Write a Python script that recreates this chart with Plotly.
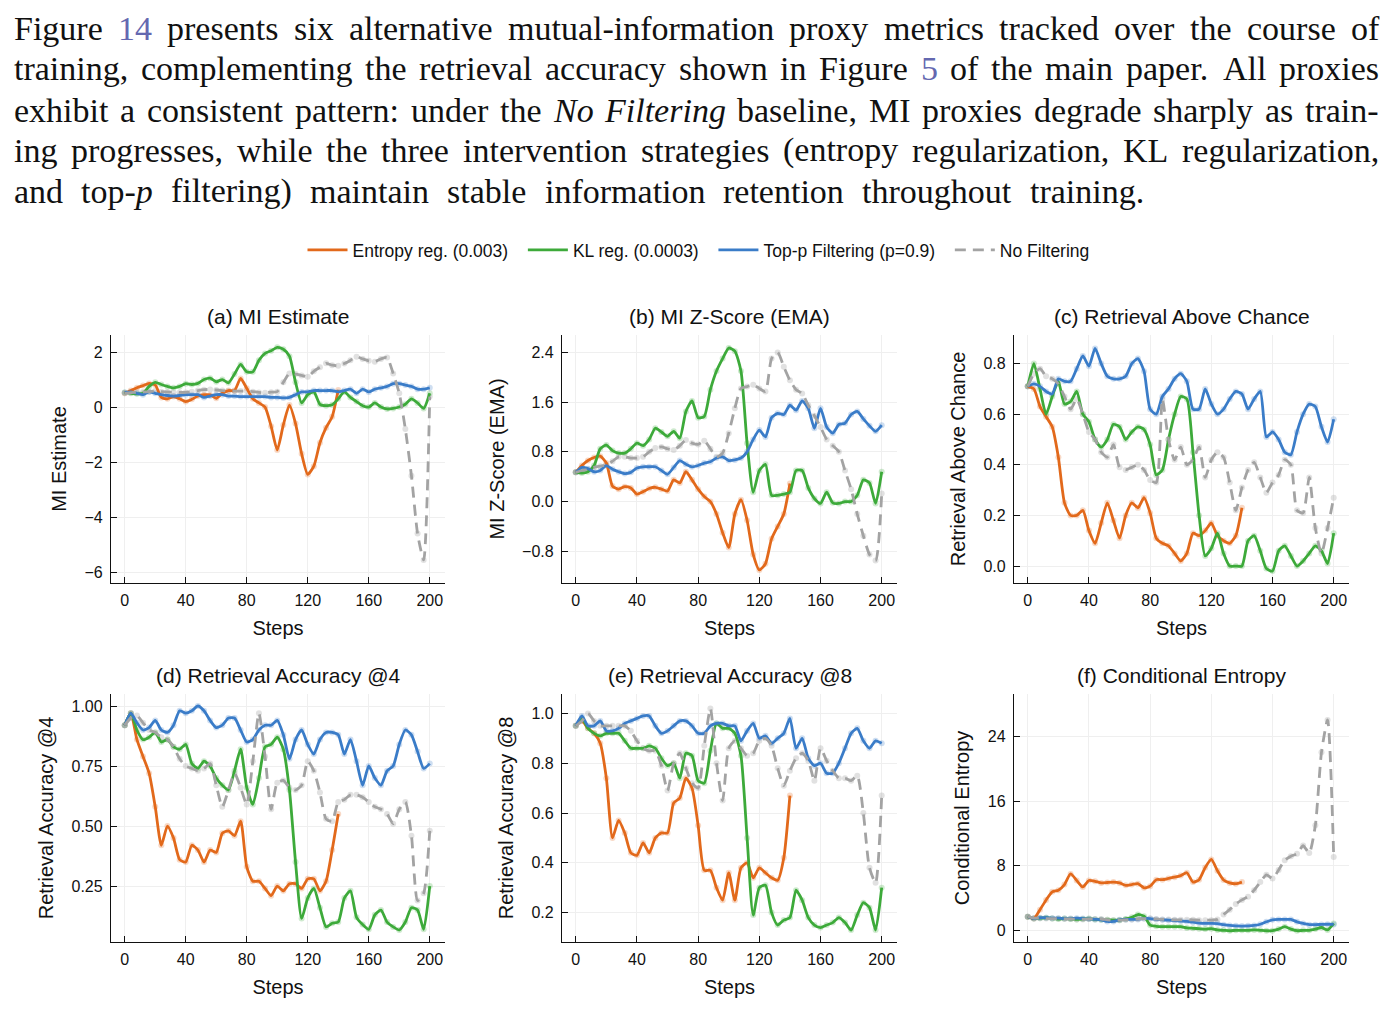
import re
import plotly.graph_objects as go
from plotly.subplots import make_subplots

steps = list(range(0, 201, 4))

series_names = ["Entropy reg. (0.003)", "KL reg. (0.0003)", "Top-p Filtering (p=0.9)", "No Filtering"]
panel_titles = ["(a) MI Estimate", "(b) MI Z-Score (EMA)", "(c) Retrieval Above Chance",
                "(d) Retrieval Accuracy @4", "(e) Retrieval Accuracy @8", "(f) Conditional Entropy"]
y_titles = ["MI Estimate", "MI Z-Score (EMA)", "Retrieval Above Chance",
            "Retrieval Accuracy @4", "Retrieval Accuracy @8", "Conditional Entropy"]
x_ticks = [0, 40, 80, 120, 160, 200]
y_ticks = [[-6, -4, -2, 0, 2], [-0.8, 0.0, 0.8, 1.6, 2.4], [0.0, 0.2, 0.4, 0.6, 0.8],
           [0.25, 0.50, 0.75, 1.00], [0.2, 0.4, 0.6, 0.8, 1.0], [0, 8, 16, 24]]
y_formats = ["d", ".1f", ".1f", ".2f", ".1f", "d"]

# (a) MI Estimate
A_ent = [0.5,0.6,0.7,0.78,0.86,0.8,0.35,0.3,0.38,0.3,0.2,0.28,0.4,0.45,0.44,0.32,0.5,0.6,0.6,1.04,
         0.68,0.3,0.15,0.0,-0.7,-1.56,-0.65,0.07,-0.6,-1.7,-2.45,-2.15,-1.3,-0.75,-0.35,0.62]
A_kl = [0.53,0.5,0.48,0.5,0.75,0.9,0.82,0.75,0.7,0.75,0.85,0.82,0.86,1.0,1.05,0.92,1.0,0.88,1.2,1.55,
        1.28,1.28,1.7,1.95,2.05,2.17,2.1,1.85,0.9,0.15,0.45,0.55,0.1,0.05,0.08,0.3,0.55,0.35,0.2,0.05,
        0.0,0.15,0.0,-0.07,-0.05,0.0,0.1,0.3,0.15,-0.05,0.5]
A_top = [0.53,0.55,0.5,0.45,0.55,0.5,0.45,0.42,0.4,0.42,0.45,0.45,0.45,0.35,0.4,0.45,0.45,0.4,0.4,0.38,
         0.38,0.38,0.38,0.38,0.35,0.35,0.33,0.35,0.45,0.55,0.55,0.6,0.6,0.6,0.6,0.55,0.6,0.65,0.5,0.65,
         0.55,0.65,0.7,0.75,0.85,0.85,0.8,0.75,0.65,0.65,0.7]
A_nof = [0.5,0.52,0.55,0.55,0.56,0.58,0.56,0.55,0.54,0.53,0.53,0.56,0.6,0.63,0.64,0.62,0.6,0.58,0.58,0.58,
         0.58,0.56,0.53,0.52,0.54,0.56,0.9,1.22,1.2,1.15,1.1,1.3,1.45,1.59,1.52,1.5,1.58,1.7,1.83,1.75,
         1.68,1.65,1.75,1.8,1.22,0.5,-0.8,-2.5,-4.6,-5.56,0.38]

# (b) MI Z-Score (EMA)
B_ent = [0.47,0.58,0.66,0.71,0.73,0.62,0.25,0.2,0.24,0.22,0.12,0.16,0.21,0.23,0.2,0.17,0.35,0.3,0.48,0.35,
         0.2,0.08,0.0,-0.2,-0.5,-0.74,-0.2,0.03,-0.3,-0.85,-1.1,-1.0,-0.6,-0.4,-0.2,0.29]
B_kl = [0.47,0.46,0.48,0.58,0.85,0.91,0.82,0.78,0.78,0.85,0.94,0.9,1.0,1.18,1.12,1.05,1.13,1.02,1.45,1.62,
        1.35,1.37,1.8,2.1,2.3,2.47,2.42,2.1,0.94,0.15,0.5,0.6,0.1,0.1,0.12,0.15,0.5,0.5,0.22,0.05,
        -0.03,0.15,-0.02,-0.03,0.0,0.0,0.1,0.35,0.3,-0.03,0.48]
B_top = [0.47,0.55,0.53,0.48,0.5,0.58,0.52,0.48,0.45,0.47,0.54,0.56,0.56,0.56,0.5,0.44,0.55,0.66,0.6,0.56,
         0.58,0.62,0.64,0.7,0.72,0.66,0.67,0.7,0.8,1.0,1.15,1.04,1.35,1.42,1.4,1.55,1.47,1.62,1.5,1.18,
         1.5,1.2,1.1,1.24,1.26,1.4,1.45,1.33,1.22,1.13,1.23]
B_nof = [0.47,0.5,0.52,0.55,0.57,0.59,0.65,0.72,0.72,0.7,0.7,0.72,0.8,0.86,0.88,0.85,0.83,0.9,0.99,0.94,
         0.92,0.98,0.85,0.72,0.78,1.1,1.5,1.82,1.85,1.88,1.82,1.77,2.3,2.4,2.17,1.95,1.8,1.74,1.55,1.38,
         1.2,1.0,0.9,0.8,0.5,0.2,-0.2,-0.55,-0.85,-0.95,0.13]

# (c) Retrieval Above Chance
C_ent = [0.71,0.7,0.63,0.59,0.55,0.43,0.25,0.2,0.2,0.22,0.14,0.09,0.17,0.25,0.18,0.11,0.2,0.25,0.23,0.27,
         0.21,0.11,0.09,0.08,0.05,0.02,0.05,0.13,0.12,0.14,0.17,0.12,0.1,0.09,0.12,0.23]
C_kl = [0.71,0.8,0.7,0.6,0.67,0.73,0.64,0.65,0.69,0.6,0.57,0.5,0.47,0.5,0.56,0.55,0.5,0.53,0.55,0.54,
        0.48,0.36,0.38,0.5,0.6,0.67,0.66,0.45,0.2,0.04,0.07,0.13,0.05,0.0,0.0,0.0,0.1,0.12,0.06,-0.01,
        -0.02,0.06,0.08,0.04,0.0,0.02,0.05,0.08,0.06,0.01,0.13]
C_top = [0.71,0.72,0.71,0.69,0.68,0.74,0.73,0.73,0.78,0.83,0.79,0.86,0.8,0.75,0.74,0.74,0.75,0.8,0.82,0.77,
         0.62,0.6,0.67,0.7,0.74,0.76,0.73,0.62,0.62,0.7,0.64,0.6,0.62,0.66,0.69,0.68,0.62,0.66,0.69,0.51,
         0.53,0.5,0.45,0.44,0.53,0.6,0.64,0.63,0.55,0.49,0.58]
C_nof = [0.71,0.76,0.78,0.75,0.74,0.72,0.67,0.62,0.66,0.6,0.53,0.5,0.45,0.43,0.48,0.39,0.38,0.39,0.4,0.38,
         0.34,0.33,0.66,0.5,0.42,0.47,0.4,0.42,0.47,0.35,0.42,0.45,0.43,0.33,0.22,0.31,0.38,0.41,0.35,0.29,
         0.33,0.36,0.42,0.4,0.22,0.21,0.35,0.15,0.05,0.15,0.27]

# (d) Retrieval Accuracy @4
D_ent = [0.92,0.97,0.86,0.79,0.72,0.58,0.42,0.5,0.45,0.36,0.35,0.42,0.4,0.35,0.4,0.39,0.47,0.48,0.46,0.52,
         0.33,0.27,0.27,0.24,0.21,0.25,0.23,0.26,0.26,0.24,0.28,0.28,0.23,0.27,0.4,0.55]
D_kl = [0.92,0.97,0.9,0.86,0.87,0.89,0.85,0.86,0.83,0.82,0.84,0.76,0.74,0.77,0.75,0.7,0.67,0.65,0.73,0.82,
        0.66,0.59,0.7,0.83,0.84,0.87,0.82,0.65,0.35,0.115,0.2,0.24,0.16,0.08,0.095,0.1,0.2,0.23,0.12,0.09,
        0.07,0.13,0.15,0.1,0.08,0.067,0.1,0.16,0.15,0.07,0.25]
D_top = [0.92,0.97,0.93,0.9,0.91,0.94,0.9,0.89,0.92,0.98,0.97,0.98,1.0,0.98,0.94,0.91,0.92,0.95,0.95,0.9,
         0.85,0.86,0.9,0.92,0.92,0.94,0.88,0.78,0.86,0.9,0.84,0.8,0.86,0.89,0.89,0.88,0.8,0.86,0.77,0.67,
         0.75,0.7,0.67,0.73,0.75,0.84,0.9,0.88,0.81,0.74,0.76]
D_nof = [0.92,0.95,0.96,0.93,0.9,0.89,0.87,0.86,0.83,0.78,0.75,0.74,0.73,0.74,0.76,0.67,0.58,0.65,0.72,0.66,
         0.59,0.77,0.97,0.79,0.57,0.68,0.69,0.66,0.65,0.67,0.77,0.73,0.64,0.53,0.52,0.6,0.61,0.63,0.63,0.62,
         0.6,0.58,0.57,0.55,0.51,0.57,0.6,0.46,0.19,0.22,0.48]

# (e) Retrieval Accuracy @8
E_ent = [0.95,0.97,0.94,0.92,0.88,0.74,0.5,0.57,0.52,0.44,0.43,0.48,0.44,0.5,0.52,0.52,0.64,0.66,0.74,0.7,
         0.55,0.37,0.37,0.3,0.25,0.36,0.25,0.38,0.4,0.34,0.38,0.36,0.34,0.33,0.42,0.67]
E_kl = [0.95,0.98,0.94,0.92,0.91,0.92,0.92,0.92,0.89,0.86,0.86,0.86,0.87,0.86,0.82,0.79,0.8,0.74,0.84,0.83,
        0.73,0.72,0.85,0.96,0.94,0.94,0.92,0.83,0.5,0.19,0.3,0.31,0.2,0.15,0.17,0.18,0.29,0.25,0.18,0.15,
        0.14,0.15,0.16,0.18,0.16,0.13,0.19,0.24,0.22,0.13,0.3]
E_top = [0.95,0.99,0.95,0.95,0.97,0.93,0.93,0.94,0.96,0.97,0.98,0.99,0.99,0.95,0.92,0.93,0.95,0.97,0.97,0.95,
         0.92,0.92,0.95,0.96,0.96,0.95,0.95,0.89,0.93,0.96,0.9,0.91,0.88,0.9,0.92,0.98,0.86,0.9,0.82,0.79,
         0.8,0.76,0.76,0.8,0.86,0.92,0.94,0.89,0.86,0.89,0.88]
E_nof = [0.95,0.97,1.0,0.97,0.95,0.95,0.95,0.95,0.95,0.93,0.89,0.86,0.85,0.85,0.79,0.69,0.8,0.84,0.78,0.72,
         0.7,0.87,1.02,0.8,0.65,0.86,0.89,0.86,0.83,0.84,0.89,0.9,0.87,0.78,0.71,0.77,0.82,0.84,0.81,0.73,
         0.86,0.81,0.77,0.74,0.74,0.73,0.75,0.6,0.38,0.32,0.67]

# (f) Conditional Entropy
F_ent = [1.73,1.5,2.6,3.8,4.8,5.0,5.7,7.0,6.2,5.4,6.2,6.1,5.9,5.95,6.0,5.9,5.6,5.7,5.8,5.3,
         5.5,6.3,6.3,6.45,6.6,6.8,7.15,6.0,6.3,7.8,8.8,7.4,6.25,5.9,5.8,6.0]
F_kl = [1.73,1.5,1.55,1.6,1.5,1.45,1.5,1.45,1.4,1.45,1.5,1.4,1.35,1.35,1.3,1.3,1.45,1.65,2.0,1.8,
        0.7,0.55,0.5,0.5,0.5,0.5,0.35,0.3,0.25,0.2,0.25,0.1,0.05,0.0,0.05,0.05,0.05,0.1,0.05,0.0,
        0.0,0.2,0.5,0.2,0.0,0.05,0.05,0.2,0.4,0.1,0.9]
F_top = [1.73,1.5,1.6,1.6,1.55,1.55,1.5,1.5,1.55,1.5,1.45,1.4,1.35,1.15,1.15,1.35,1.4,1.4,1.4,1.5,
         1.5,1.4,1.35,1.3,1.25,1.2,1.15,1.05,0.95,0.9,0.9,0.88,0.75,0.65,0.6,0.58,0.6,0.65,0.8,1.1,
         1.35,1.4,1.4,1.4,1.1,0.9,0.75,0.75,0.78,0.8,0.78]
F_nof = [1.73,1.55,1.55,1.5,1.5,1.5,1.45,1.45,1.4,1.4,1.45,1.45,1.45,1.35,1.3,1.3,1.35,1.4,1.45,1.5,
         1.5,1.45,1.4,1.4,1.35,1.35,1.35,1.35,1.3,1.3,1.3,1.4,2.0,2.6,3.3,3.8,4.2,5.0,6.0,6.9,
         6.45,7.5,8.7,9.2,9.5,10.5,9.6,13.0,22.0,26.0,9.1]

# Paragraph ({..} = link colour, _.._ = italic)
para_lines = [
    "Figure {14} presents six alternative mutual-information proxy metrics tracked over the course of",
    "training, complementing the retrieval accuracy shown in Figure {5} of the main paper. All proxies",
    "exhibit a consistent pattern: under the _No Filtering_ baseline, MI proxies degrade sharply as train-",
    "ing progresses, while the three intervention strategies (entropy regularization, KL regularization,",
    "and top-_p_ filtering) maintain stable information retention throughout training.",
]

panels = [
    [A_ent, A_kl, A_top, A_nof],
    [B_ent, B_kl, B_top, B_nof],
    [C_ent, C_kl, C_top, C_nof],
    [D_ent, D_kl, D_top, D_nof],
    [E_ent, E_kl, E_top, E_nof],
    [F_ent, F_kl, F_top, F_nof],
]
y_ranges = [[-6.4, 2.62], [-1.31, 2.68], [-0.067, 0.913], [0.017, 1.05], [0.082, 1.078], [-1.39, 29.2]]

colors = ["#E2691B", "#3DAA3A", "#3A7CC8", "#A3A3A3"]
faint = ["rgba(226,105,27,0.25)", "rgba(61,170,58,0.25)", "rgba(58,124,200,0.25)", "rgba(163,163,163,0.33)"]
dashes = ["solid", "solid", "solid", "11px,7px"]

W, H = 1397, 1020
col_px = [(111, 445), (562, 897), (1014, 1349)]
row_px = [(335, 583), (694, 942)]

fig = make_subplots(rows=2, cols=3)
sans = "Liberation Sans, Arial, Helvetica, sans-serif"

for p, data in enumerate(panels):
    r, c = p // 3 + 1, p % 3 + 1
    for s, ys in enumerate(data):
        xs = steps[:len(ys)]
        fig.add_trace(go.Scatter(x=xs, y=ys, mode="markers",
                                 marker=dict(size=6, color=faint[s]),
                                 showlegend=False, hoverinfo="skip"), row=r, col=c)
    for s, ys in enumerate(data):
        xs = steps[:len(ys)]
        label = series_names[s] + ("\u00a0\u00a0" if s < 3 else "")
        fig.add_trace(go.Scatter(x=xs, y=ys, mode="lines", name=label,
                                 line=dict(color=colors[s], width=2.8, dash=dashes[s],
                                           shape="spline", smoothing=0.6),
                                 legendgroup=series_names[s], showlegend=(p == 0)),
                      row=r, col=c)

annotations = []
for p in range(6):
    ri, ci = p // 3, p % 3
    x0, x1 = col_px[ci]
    yt, yb = row_px[ri]
    xd = [x0 / W, x1 / W]
    yd = [1 - yb / H, 1 - yt / H]
    ax_suffix = "" if p == 0 else str(p + 1)
    fig.layout["xaxis" + ax_suffix].update(
        domain=xd, range=[-9, 210], tickvals=x_ticks,
        title=dict(text="Steps", font=dict(size=20, family=sans, color="#111"), standoff=12),
        showline=True, linecolor="#111", linewidth=1.3, mirror=False,
        ticks="inside", ticklen=6, tickwidth=1.2, tickcolor="#111", ticklabelstandoff=3,
        showgrid=True, gridcolor="#efefef", gridwidth=1, zeroline=False,
        tickfont=dict(size=16, family=sans, color="#111"))
    fig.layout["yaxis" + ax_suffix].update(
        domain=yd, range=y_ranges[p], tickvals=y_ticks[p], tickformat=y_formats[p],
        title=dict(text=y_titles[p], font=dict(size=20, family=sans, color="#111"), standoff=12),
        showline=True, linecolor="#111", linewidth=1.3, mirror=False,
        ticks="inside", ticklen=6, tickwidth=1.2, tickcolor="#111", ticklabelstandoff=4,
        showgrid=True, gridcolor="#efefef", gridwidth=1, zeroline=False,
        tickfont=dict(size=16, family=sans, color="#111"))
    annotations.append(dict(text=panel_titles[p], x=(x0 + x1) / 2 / W, y=1 - (yt - 19) / H,
                            xref="paper", yref="paper", xanchor="center", yanchor="middle",
                            showarrow=False, font=dict(size=21, family=sans, color="#111")))

# ---- justified paragraph (Liberation Serif is metric-compatible with Times) ----
ROMAN = {' ': 250, '!': 333, '(': 333, ')': 333, ',': 250, '-': 333, '.': 250, ':': 278, ';': 278,
         '=': 564, '?': 444,
         'A': 722, 'B': 667, 'C': 667, 'D': 722, 'E': 611, 'F': 556, 'G': 722, 'H': 722, 'I': 333,
         'J': 389, 'K': 722, 'L': 611, 'M': 889, 'N': 722, 'O': 722, 'P': 556, 'Q': 722, 'R': 667,
         'S': 556, 'T': 611, 'U': 722, 'V': 722, 'W': 944, 'X': 722, 'Y': 722, 'Z': 611,
         'a': 444, 'b': 500, 'c': 444, 'd': 500, 'e': 444, 'f': 333, 'g': 500, 'h': 500, 'i': 278,
         'j': 278, 'k': 500, 'l': 278, 'm': 778, 'n': 500, 'o': 500, 'p': 500, 'q': 500, 'r': 333,
         's': 389, 't': 278, 'u': 500, 'v': 500, 'w': 722, 'x': 500, 'y': 500, 'z': 444}
for d in "0123456789":
    ROMAN[d] = 500
ITALIC = {'N': 667, 'F': 611, 'o': 500, 'i': 278, 'l': 278, 't': 278, 'e': 444, 'r': 389,
          'n': 500, 'g': 500, 'p': 500}

link = "#6468B0"
PSIZE = 34
left_px = 14
line_right = [1379, 1379, 1379, 1379, 1144]
para_y = [28, 69, 110, 150, 191]


def build_token(word):
    segs, italic, lk, cur, width = [], False, False, "", 0.0
    for ch in word:
        if ch in "_{}":
            if cur:
                segs.append((cur, italic, lk))
            cur = ""
            if ch == "_":
                italic = not italic
            elif ch == "{":
                lk = True
            else:
                lk = False
            continue
        cur += ch
        width += (ITALIC.get(ch, ROMAN.get(ch, 500)) if italic else ROMAN.get(ch, 500))
    if cur:
        segs.append((cur, italic, lk))
    html = ""
    for t, it, l in segs:
        piece = f"<i>{t}</i>" if it else t
        if l:
            piece = f"<span style='color:{link}'>{piece}</span>"
        html += piece
    return html, width * PSIZE / 1000.0


italic_state = False
for li, (line, yy) in enumerate(zip(para_lines, para_y)):
    words = line.split(" ")
    toks = []
    for w in words:
        w2 = ("_" if italic_state else "") + w
        if w2.count("_") % 2 == 1:
            w2 = w2 + "_"
            italic_state = True
        else:
            italic_state = False
        toks.append(build_token(w2))
    total = sum(t[1] for t in toks)
    gap = (line_right[li] - left_px - total) / (len(toks) - 1)
    xpos = left_px
    for html, wd in toks:
        annotations.append(dict(text=html, x=xpos / W, y=1 - yy / H, xref="paper", yref="paper",
                                xanchor="left", yanchor="middle", showarrow=False, borderpad=0,
                                borderwidth=0,
                                font=dict(size=PSIZE, family="Liberation Serif, Times New Roman, serif",
                                          color="#111")))
        xpos += wd + gap

fig.update_layout(
    width=W, height=H, margin=dict(l=0, r=0, t=0, b=0),
    paper_bgcolor="white", plot_bgcolor="white",
    annotations=annotations,
    legend=dict(orientation="h", x=0.5, xanchor="center", y=1 - 250 / H, yanchor="middle",
                font=dict(size=17.5, family=sans, color="#111"), bgcolor="rgba(0,0,0,0)",
                itemwidth=40, tracegroupgap=0),
    showlegend=True,
)

fig.write_html("out.html")
